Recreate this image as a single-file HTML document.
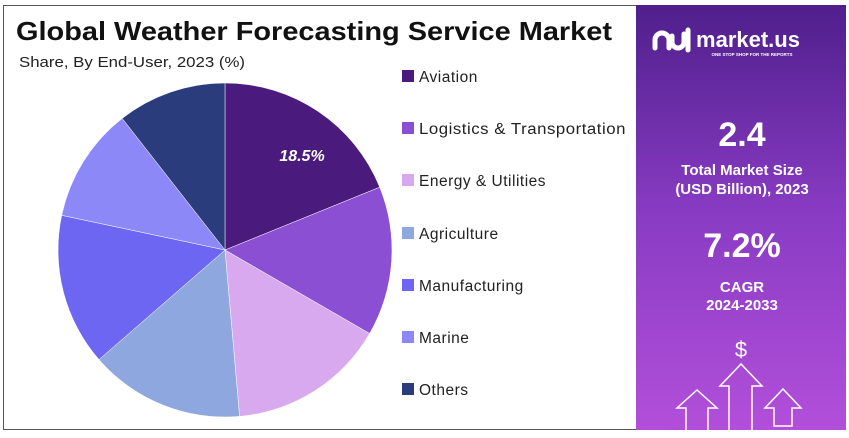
<!DOCTYPE html>
<html><head><meta charset="utf-8"><style>
body{margin:0;width:849px;height:433px;background:#fff;overflow:hidden;font-family:"Liberation Sans",sans-serif}
</style></head><body>
<svg width="849" height="433" xmlns="http://www.w3.org/2000/svg">
<defs>
<linearGradient id="g" x1="0" y1="0" x2="0" y2="1">
<stop offset="0" stop-color="#4f1f8c"/><stop offset="0.5" stop-color="#8a3cc4"/><stop offset="1" stop-color="#b24fda"/>
</linearGradient>
</defs>
<rect x="3.5" y="5.5" width="842" height="424" fill="#fff" stroke="#555" stroke-width="1"/>
<rect x="636" y="5" width="210" height="425" fill="url(#g)"/>
<text x="16" y="40" font-size="26" font-weight="bold" fill="#111" textLength="596" lengthAdjust="spacingAndGlyphs">Global Weather Forecasting Service Market</text>
<text x="19" y="67" font-size="15" fill="#222" textLength="226" lengthAdjust="spacingAndGlyphs">Share, By End-User, 2023 (%)</text>
<g stroke="#fff" stroke-width="0.5">
<path d="M225,250 L225,83 A167,167 0 0 1 379.7,187.2Z" fill="#4a1a7c"/>
<path d="M225,250 L379.7,187.2 A167,167 0 0 1 369.6,333.5Z" fill="#8a4fd2"/>
<path d="M225,250 L369.6,333.5 A167,167 0 0 1 239.6,416.4Z" fill="#d8a9ef"/>
<path d="M225,250 L239.6,416.4 A167,167 0 0 1 99,359.6Z" fill="#8ea7de"/>
<path d="M225,250 L99,359.6 A167,167 0 0 1 61.7,215.3Z" fill="#6c66f2"/>
<path d="M225,250 L61.7,215.3 A167,167 0 0 1 122.2,118.4Z" fill="#8d88f8"/>
<path d="M225,250 L122.2,118.4 A167,167 0 0 1 225,83Z" fill="#2b3c7c"/>
</g>
<text x="302" y="161" font-size="16" font-weight="bold" font-style="italic" fill="#fff" text-anchor="middle">18.5%</text>
<g font-size="15.5" fill="#222" letter-spacing="0.5">
<rect x="402" y="70" width="12" height="12" fill="#4a1a7c"/><text x="419" y="82">Aviation</text>
<rect x="402" y="122" width="12" height="12" fill="#8a4fd2"/><text x="419" y="134" textLength="207" lengthAdjust="spacingAndGlyphs">Logistics &amp; Transportation</text>
<rect x="402" y="174" width="12" height="12" fill="#d8a9ef"/><text x="419" y="186">Energy &amp; Utilities</text>
<rect x="402" y="227" width="12" height="12" fill="#8ea7de"/><text x="419" y="239">Agriculture</text>
<rect x="402" y="279" width="12" height="12" fill="#6c66f2"/><text x="419" y="291">Manufacturing</text>
<rect x="402" y="331" width="12" height="12" fill="#8d88f8"/><text x="419" y="343">Marine</text>
<rect x="402" y="383" width="12" height="12" fill="#2b3c7c"/><text x="419" y="395">Others</text>
</g>
<g fill="#fff" text-anchor="middle" font-weight="bold">
<path d="M655,48 v-8 a7,7 0 0 1 14,0 v8 M672,36 v6 a6,6 0 0 0 12,0 v-8 M688,30 v20" stroke="#fff" stroke-width="5" fill="none" stroke-linecap="round"/>
<text x="748" y="47" font-size="22">market.us</text>
<text x="752" y="56" font-size="4.5">ONE STOP SHOP FOR THE REPORTS</text>
<text x="742" y="146" font-size="34">2.4</text>
<text x="742" y="175" font-size="15">Total Market Size</text>
<text x="742" y="194" font-size="15">(USD Billion), 2023</text>
<text x="742" y="257" font-size="34">7.2%</text>
<text x="742" y="292" font-size="15">CAGR</text>
<text x="742" y="310" font-size="15">2024-2033</text>
<text x="741" y="357" font-size="22" font-weight="normal">$</text>
</g>
<g fill="none" stroke="#fff" stroke-width="1.5">
<path d="M686,433 V408 H677 L697,390 L717,408 H708 V433"/>
<path d="M729,433 V386 H720 L741,364 L762,386 H752 V433"/>
<path d="M774,426 V408 H765 L783,389 L801,408 H792 V426 Z"/>
</g>
</svg>
</body></html>
